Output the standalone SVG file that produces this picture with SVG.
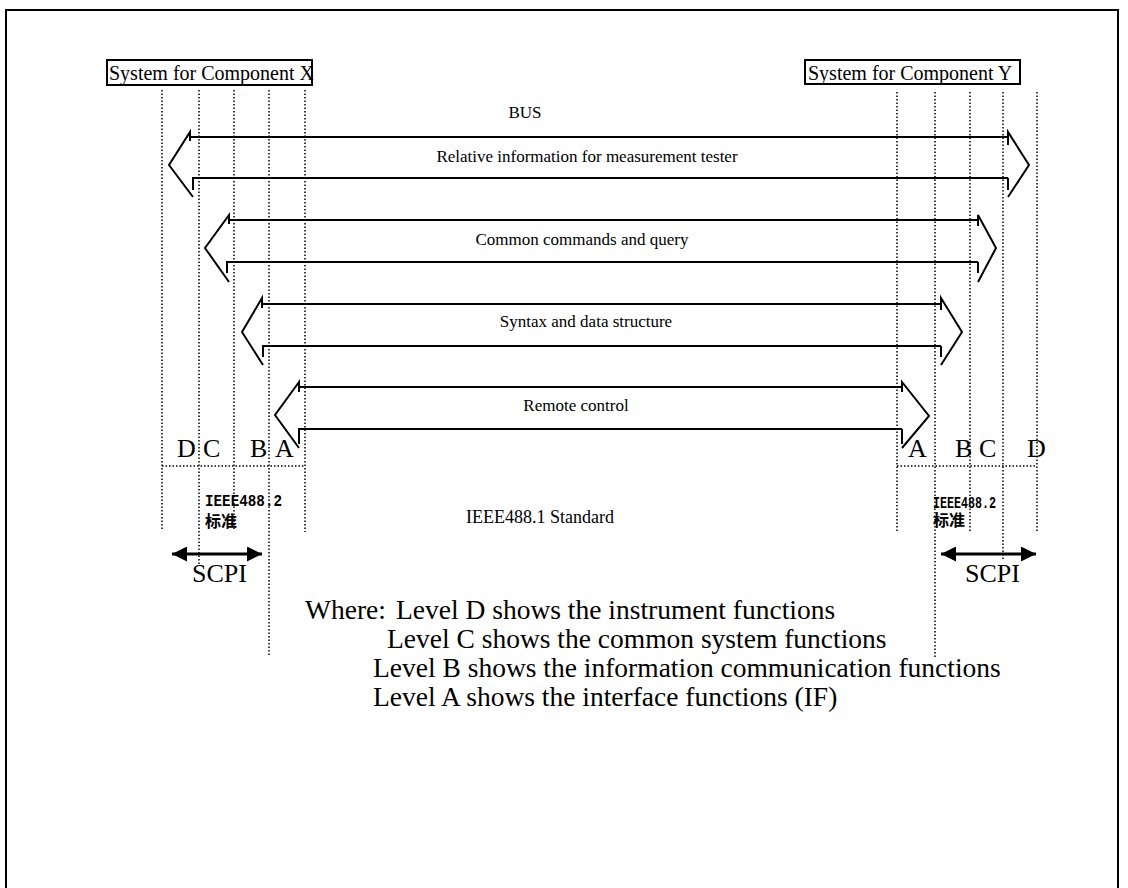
<svg xmlns="http://www.w3.org/2000/svg" width="1128" height="888" viewBox="0 0 1128 888">
<defs>
<style>
.frame{fill:none;stroke:#000;stroke-width:2}
.box{fill:#fff;stroke:#000;stroke-width:2}
.dot{fill:none;stroke:#000;stroke-width:1.5;stroke-dasharray:1.5 2}
.arr{fill:none;stroke:#000;stroke-width:2}
.t{font-family:"Liberation Serif","Times New Roman",serif;fill:#000}
.sm{font-size:17px}
.hd{font-size:20px}
.big{font-size:26px}
.lv{font-size:27.5px}
.cjk{font-family:"Liberation Mono","Noto Sans CJK SC",monospace;font-weight:bold;font-size:16px;fill:#000}
.scpi{stroke:#000;stroke-width:3;fill:none}
</style>
<marker id="ah" viewBox="0 0 10 10" refX="10" refY="5" markerWidth="5" markerHeight="5" orient="auto-start-reverse" markerUnits="strokeWidth">
<path d="M0,0 L10,5 L0,10 Z" fill="#000"/>
</marker>
</defs>
<rect width="1128" height="888" fill="#fff"/>
<path class="frame" d="M6,900 V10 H1118 V900"/>

<g id="sysX">
<rect class="box" x="107" y="60" width="205" height="25"/>
<text class="t hd" x="109" y="80">System for Component X</text>
</g>
<g id="sysY">
<rect class="box" x="805" y="60" width="215" height="24"/>
<text class="t hd" x="808" y="80">System for Component Y</text>
</g>

<g id="gridlines">
<path class="dot" d="M162,90 V530 M199,90 V566 M234,90 V530 M269,90 V655 M305,90 V532"/>
<path class="dot" d="M897,92 V532 M935,92 V657 M970,92 V532 M1003,92 V560 M1037,92 V532"/>
<path class="dot" d="M162,466 H305 M897,466 H1037"/>
</g>

<g id="connectors">
<g id="arrow-bus">
<path class="arr" d="M190,141 V132 L169,165 L193,197 M190,137 H1008 M193,190 V178 H1008 M1008,145 V132 L1029,165 L1008,197 M1008,190 V178"/>
</g>
<g id="arrow-common">
<path class="arr" d="M229,224 V215 L205,248 L229,282 M229,220 H978 M227,273 V262 H978 M978,226 V215 L996,248 L978,282 M978,273 V262"/>
</g>
<g id="arrow-syntax">
<path class="arr" d="M262,308 V298 L242,332 L263,365 M262,304 H941 M263,357 V346 H941 M941,310 V298 L962,332 L941,365 M941,357 V346"/>
</g>
<g id="arrow-remote">
<path class="arr" d="M299,392 V382 L275,415 L299,448 M299,387 H902 M299,444 V429 H902 M902,392 V382 L929,416 L902,448 M902,444 V429"/>
</g>
<g id="scpi-left-arrow">
<line class="scpi" x1="172" y1="554" x2="262" y2="554" marker-start="url(#ah)" marker-end="url(#ah)"/>
</g>
<g id="scpi-right-arrow">
<line class="scpi" x1="941" y1="554" x2="1036" y2="554" marker-start="url(#ah)" marker-end="url(#ah)"/>
</g>
</g>

<g id="labels">
<text class="t sm" x="525" y="118" text-anchor="middle">BUS</text>
<text class="t sm" x="587" y="162" text-anchor="middle">Relative information for measurement tester</text>
<text class="t sm" x="582" y="245" text-anchor="middle">Common commands and query</text>
<text class="t sm" x="586" y="327" text-anchor="middle">Syntax and data structure</text>
<text class="t sm" x="576" y="411" text-anchor="middle">Remote control</text>
<text class="t" font-size="18" x="540" y="523" text-anchor="middle">IEEE488.1 Standard</text>
</g>

<g id="levels-left">
<text class="t big" x="177" y="457">D</text>
<text class="t big" x="203" y="457">C</text>
<text class="t big" x="250" y="457">B</text>
<text class="t big" x="275" y="457">A</text>
</g>
<g id="levels-right">
<text class="t big" x="908" y="457">A</text>
<text class="t big" x="955" y="457">B</text>
<text class="t big" x="979" y="457">C</text>
<text class="t big" x="1027" y="457">D</text>
</g>

<g id="std-left">
<text class="cjk" x="205" y="506" textLength="77" lengthAdjust="spacingAndGlyphs">IEEE488.2</text>
<text class="cjk" x="205" y="527">标准</text>
</g>
<g id="std-right">
<text class="cjk" x="933" y="508" textLength="63" lengthAdjust="spacingAndGlyphs">IEEE488.2</text>
<text class="cjk" x="933" y="526">标准</text>
</g>

<g id="scpi-labels">
<text class="t big" x="192" y="582">SCPI</text>
<text class="t big" x="965" y="582">SCPI</text>
</g>

<g id="legend">
<text class="t lv" y="619"><tspan x="305">Where:</tspan><tspan x="396">Level D shows the instrument functions</tspan></text>
<text class="t lv" x="387" y="648">Level C shows the common system functions</text>
<text class="t lv" x="373" y="677">Level B shows the information communication functions</text>
<text class="t lv" x="373" y="706">Level A shows the interface functions (IF)</text>
</g>
</svg>
